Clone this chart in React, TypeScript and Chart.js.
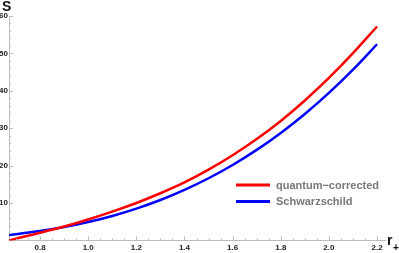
import React, { useEffect, useRef } from "react";
import { Chart, registerables } from "chart.js";

Chart.register(...registerables);

const rValues = [0.671, 0.7, 0.8, 0.9, 1.0, 1.1, 1.2, 1.3, 1.4, 1.5, 1.6, 1.7, 1.8, 1.9, 2.0, 2.1, 2.2];
const quantumCorrected = [0.0, 0.5, 2.07, 3.74, 5.63, 7.71, 10.02, 12.63, 15.53, 18.94, 22.79, 27.12, 31.95, 37.42, 43.44, 50.06, 57.2];
const schwarzschild = [1.48, 1.69, 2.52, 3.59, 4.93, 6.56, 8.52, 10.83, 13.53, 16.64, 20.19, 24.22, 28.75, 33.82, 39.44, 45.66, 52.45];
const xTicks = [0.8, 1.0, 1.2, 1.4, 1.6, 1.8, 2.0, 2.2];
const yTicks = [10, 20, 30, 40, 50, 60];
const seriesLabels = ["quantum\u2212corrected", "Schwarzschild"];
const seriesColors = ["#ff0000", "#0000ff"];

const FONT = "'Liberation Sans', Arial, sans-serif";

const decorPlugin = {
  id: "decor",
  afterDraw(chart: any) {
    const ctx = chart.ctx;
    const xs = chart.scales.x;
    const ys = chart.scales.y;
    const area = chart.chartArea;
    ctx.save();
    ctx.strokeStyle = "#bbbbbb";
    ctx.lineWidth = 1;
    for (let v = 0.7; v <= 2.2001; v += 0.05) {
      const major = xTicks.some((t) => Math.abs(t - v) < 1e-6);
      const px = Math.round(xs.getPixelForValue(v)) + 0.5;
      ctx.beginPath();
      ctx.moveTo(px, area.bottom);
      ctx.lineTo(px, area.bottom - (major ? 4 : 2));
      ctx.stroke();
    }
    for (let v = 2; v <= 60.001; v += 2) {
      const major = yTicks.some((t) => Math.abs(t - v) < 1e-6);
      const py = Math.round(ys.getPixelForValue(v)) + 0.5;
      ctx.beginPath();
      ctx.moveTo(area.left, py);
      ctx.lineTo(area.left + (major ? 4 : 2), py);
      ctx.stroke();
    }
    ctx.fillStyle = "#111111";
    ctx.textBaseline = "alphabetic";
    ctx.textAlign = "left";
    ctx.font = `bold 14px ${FONT}`;
    ctx.fillText("S", 2, 11);
    ctx.fillText("r", 387, 245);
    ctx.font = `bold 10px ${FONT}`;
    ctx.fillText("+", 393, 251);
    const legendY = [185, 201.5];
    seriesLabels.forEach((lab, i) => {
      ctx.strokeStyle = seriesColors[i];
      ctx.lineWidth = 3;
      ctx.beginPath();
      ctx.moveTo(236, legendY[i]);
      ctx.lineTo(270, legendY[i]);
      ctx.stroke();
      ctx.fillStyle = "#787878";
      ctx.font = `bold 11px ${FONT}`;
      ctx.textBaseline = "middle";
      ctx.fillText(lab, 276, legendY[i] + 0.5);
    });
    ctx.restore();
  },
};

export default function App() {
  const ref = useRef<HTMLCanvasElement | null>(null);
  useEffect(() => {
    if (!ref.current) return;
    const chart = new Chart(ref.current, {
      type: "line",
      data: {
        datasets: [
          {
            label: seriesLabels[0],
            data: rValues.map((r, i) => ({ x: r, y: quantumCorrected[i] })),
            borderColor: seriesColors[0],
            borderWidth: 2.5,
            pointRadius: 0,
            cubicInterpolationMode: "monotone",
            fill: false,
          },
          {
            label: seriesLabels[1],
            data: rValues.map((r, i) => ({ x: r, y: schwarzschild[i] })),
            borderColor: seriesColors[1],
            borderWidth: 2.5,
            pointRadius: 0,
            cubicInterpolationMode: "monotone",
            fill: false,
          },
        ],
      },
      options: {
        responsive: false,
        animation: false,
        devicePixelRatio: 1,
        layout: { padding: { top: 16, right: 14, left: 0, bottom: 0 } },
        plugins: { legend: { display: false }, tooltip: { enabled: false } },
        scales: {
          x: {
            type: "linear",
            min: 0.671,
            max: 2.233,
            afterBuildTicks: (s: any) => {
              s.ticks = xTicks.map((v) => ({ value: v }));
            },
            afterFit: (s: any) => {
              s.height = 12.5;
            },
            grid: { display: false, drawTicks: false },
            border: { display: true, color: "#bbbbbb", width: 1 },
            ticks: {
              autoSkip: false,
              maxRotation: 0,
              padding: 2,
              color: "#222222",
              font: { family: FONT, size: 8, weight: "bold" },
              callback: (v: any) => Number(v).toFixed(1),
            },
          },
          y: {
            type: "linear",
            min: 0,
            max: 60,
            afterBuildTicks: (s: any) => {
              s.ticks = yTicks.map((v) => ({ value: v }));
            },
            afterFit: (s: any) => {
              s.width = 9;
            },
            grid: { display: false, drawTicks: false },
            border: { display: true, color: "#bbbbbb", width: 1 },
            ticks: {
              autoSkip: false,
              padding: 1,
              color: "#222222",
              font: { family: FONT, size: 8, weight: "bold" },
              callback: (v: any) => String(v),
            },
          },
        },
      },
      plugins: [decorPlugin],
    } as any);
    return () => chart.destroy();
  }, []);
  return (
    <div style={{ position: "fixed", left: 0, top: 0, width: 399, height: 253, background: "#fff" }}>
      <canvas ref={ref} width={399} height={253} style={{ display: "block" }} />
    </div>
  );
}
